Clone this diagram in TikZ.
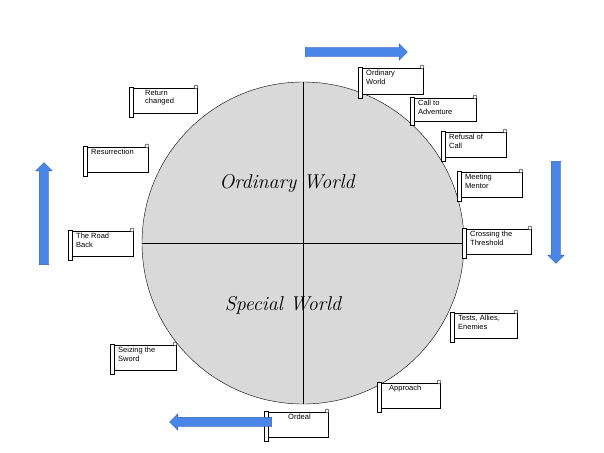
\documentclass[tikz,border=0pt]{standalone}
\usepackage{fontspec}
\setmainfont{Liberation Sans}
\newfontfamily\handfont{Latin Modern Roman}
\usetikzlibrary{shapes.arrows}
\definecolor{arrowblue}{HTML}{4A86E8}
\definecolor{worldgray}{HTML}{D9D9D9}
\tikzset{
  stage/.style={inner sep=1pt, align=left, anchor=north west,
                font=\fontsize{7.5}{8.5}\selectfont},
  bigarrow/.style={single arrow, draw=arrowblue!70!black, fill=arrowblue,
                   single arrow head extend=3.5pt, minimum height=102pt,
                   text height=4.5pt, text depth=4.5pt, inner sep=0pt},
  world/.style={font=\handfont\itshape\fontsize{20}{22}\selectfont}
}
% scroll: name, left x, top y, right x, bottom y, text
\newcommand{\scrollnode}[6]{
  \draw[fill=white] (#2,#3) rectangle (#4,#5);
  \node[stage] (#1) at (#2+4,#3+1) {#6};
  \draw[fill=white] (#2-3,#3-1) rectangle (#2+1,#5+4);
  \draw[fill=white] (#4-1,#3-1) circle (2);
}
\begin{document}
\begin{tikzpicture}[x=1pt, y=-1pt]
\useasboundingbox (0,0) rectangle (604,452);
\draw[fill=worldgray] (303,243) coordinate (c) circle (161);
\draw (c) ++(0,-161) coordinate (ctop) -- ++(0,322) coordinate (cbot);
\draw (c) ++(-161,0) coordinate (cleft) -- ++(322,0) coordinate (cright);
\node[world] (ordinary) at (287,183) {Ordinary World};
\node[world] (special) at (283,305) {Special World};

\scrollnode{s1}{361}{68}{423}{94}{Ordinary\\World}
\scrollnode{s2}{413}{98}{476}{121}{Call to\\Adventure}
\scrollnode{s3}{444}{132}{506}{157}{Refusal of\\Call}
\scrollnode{s4}{460}{172}{522}{197}{Meeting\\Mentor}
\scrollnode{s5}{465}{229}{531}{254}{Crossing the\\Threshold}
\scrollnode{s6}{453}{313}{517}{338}{Tests, Allies,\\Enemies}
\scrollnode{s7}{380}{383}{440}{408}{\mbox{}\\[-3pt]\hspace*{4pt}Approach}
\scrollnode{s8}{267}{412}{328}{437}{\mbox{}\\[-3pt]\hspace*{16pt}Ordeal}
\scrollnode{s9}{113}{345}{176}{370}{Seizing the\\Sword}
\scrollnode{s10}{71}{231}{133}{256}{The Road\\Back}
\scrollnode{s11}{86}{147}{148}{172}{\mbox{}\\[-3pt]Resurrection}
\scrollnode{s12}{132}{88}{197}{113}{\hspace*{8pt}Return\\\hspace*{8pt}changed}

\node[bigarrow] (atop) at (354,52) {};
\node[bigarrow, rotate=-90] (aright) at (556,210) {};
\node[bigarrow, rotate=180] (abottom) at (223,422) {};
\node[bigarrow, rotate=90] (aleft) at (44,216) {};
\end{tikzpicture}
\end{document}
